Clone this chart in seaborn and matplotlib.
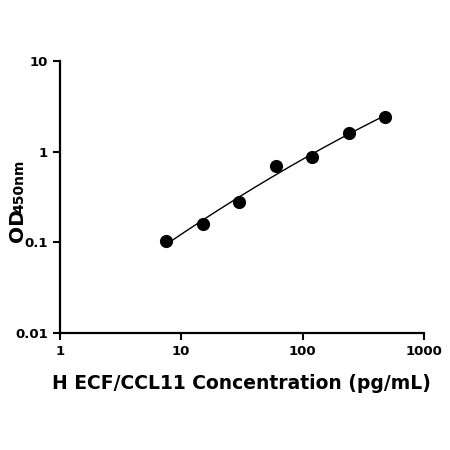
import numpy as np
import pandas as pd
import matplotlib
matplotlib.use('Agg')
from matplotlib import pyplot as plt
import seaborn as sns

# standard curve values
conc = [7.5, 15, 30, 60, 120, 240, 480]
od = [0.103, 0.158, 0.278, 0.70, 0.872, 1.63, 2.45]
x_ticks = [1, 10, 100, 1000]
x_labels = ['1', '10', '100', '1000']
y_ticks = [0.01, 0.1, 1, 10]
y_labels = ['0.01', '0.1', '1', '10']

sns.set_style('ticks')
plt.rcParams['font.family'] = ['DejaVu Sans']
plt.rcParams['font.weight'] = 'bold'
plt.rcParams['text.color'] = 'black'
plt.rcParams['axes.labelcolor'] = 'black'
plt.rcParams['xtick.color'] = 'black'
plt.rcParams['ytick.color'] = 'black'

df = pd.DataFrame({'conc': conc, 'od': od})

# smooth fit in log-log space
coef = np.polyfit(np.log10(df['conc']), np.log10(df['od']), 2)
xs = np.logspace(np.log10(min(conc)), np.log10(max(conc)), 200)
fit = pd.DataFrame({'conc': xs, 'od': 10 ** np.polyval(coef, np.log10(xs))})

fig = plt.figure(figsize=(4.5, 4.5), dpi=100)
ax = fig.add_axes([0.133, 0.26, 0.809, 0.604])

sns.lineplot(data=fit, x='conc', y='od', color='black', linewidth=1, ax=ax)
sns.scatterplot(data=df, x='conc', y='od', color='black', s=90,
                edgecolor='black', linewidth=0, ax=ax, zorder=3)

ax.set_xscale('log')
ax.set_yscale('log')
ax.set_xlim(1, 1000)
ax.set_ylim(0.01, 10)
ax.set_xticks(x_ticks)
ax.set_xticklabels(x_labels, fontsize=9.5, fontweight='bold')
ax.set_yticks(y_ticks)
ax.set_yticklabels(y_labels, fontsize=9.5, fontweight='bold')
ax.minorticks_off()
ax.tick_params(width=1.5, length=5, color='black', labelcolor='black')

for s in ['left', 'bottom']:
    ax.spines[s].set_linewidth(1.6)
    ax.spines[s].set_color('black')
sns.despine(ax=ax)

ax.set_xlabel('H ECF/CCL11 Concentration (pg/mL)', fontsize=13.5,
              fontweight='bold', labelpad=12, color='black')
ax.set_ylabel('')

fig.text(0.051, 0.462, 'OD', rotation=90, rotation_mode='anchor',
         ha='left', va='baseline', fontsize=14.5, fontweight='bold')
fig.text(0.051, 0.527, '450nm', rotation=90, rotation_mode='anchor',
         ha='left', va='baseline', fontsize=10, fontweight='bold')

plt.savefig('out.png', dpi=100)
